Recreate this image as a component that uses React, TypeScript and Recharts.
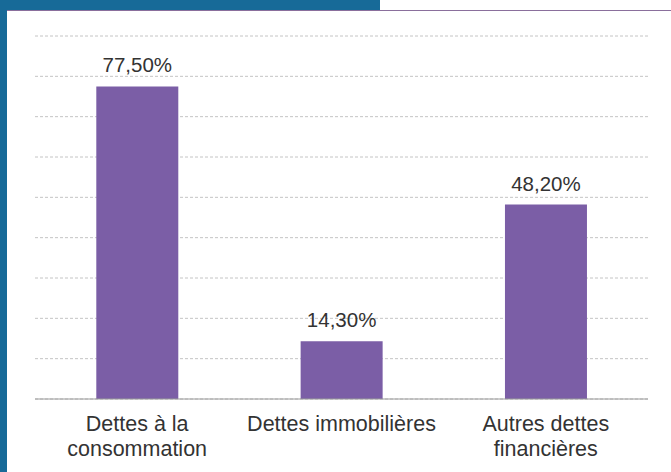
import { BarChart, Bar, XAxis, YAxis, CartesianGrid, LabelList } from 'recharts';

const CATEGORIES = ['Dettes à la\nconsommation', 'Dettes immobilières', 'Autres dettes\nfinancières'];
const VALUES = [77.5, 14.3, 48.2];
const Y_TICKS = [0, 10, 20, 30, 40, 50, 60, 70, 80, 90];

const BAR_COLOR = '#7b5ea6';
const TEXT_COLOR = '#333333';

const data = CATEGORIES.map((name, i) => ({ name, value: VALUES[i] }));

const formatPct = (v: number) => v.toFixed(2).replace('.', ',') + '%';

type TickProps = {
  x?: number;
  y?: number;
  payload?: { value: string };
};

function CategoryTick({ x = 0, y = 0, payload }: TickProps) {
  const lines = (payload?.value ?? '').split('\n');
  return (
    <text
      x={x}
      y={y}
      textAnchor="middle"
      fill={TEXT_COLOR}
      style={{ fontFamily: '"Liberation Sans", Arial, sans-serif', fontSize: '21.5px' }}
    >
      {lines.map((l, i) => (
        <tspan key={i} x={x} dy={i === 0 ? 24 : 25}>
          {l}
        </tspan>
      ))}
    </text>
  );
}

export default function App() {
  return (
    <div
      style={{
        position: 'fixed',
        left: 0,
        top: 0,
        width: '671px',
        height: '472px',
        background: '#176a98',
        overflow: 'hidden',
      }}
    >
      {/* white strip top right */}
      <div
        style={{
          position: 'absolute',
          left: '380px',
          top: 0,
          width: '291px',
          height: '10px',
          background: '#ffffff',
        }}
      />
      {/* chart panel */}
      <div
        style={{
          position: 'absolute',
          left: '7px',
          top: '10px',
          width: '664px',
          height: '462px',
          background: '#ffffff',
          borderTop: '1px solid #8a6f9c',
          boxSizing: 'border-box',
        }}
      >
        <BarChart
          width={664}
          height={461}
          data={data}
          margin={{ top: 25, right: 23, left: 28, bottom: 0 }}
          barCategoryGap="30%"
        >
          <CartesianGrid
            vertical={false}
            stroke="#c4c4c4"
            strokeDasharray="3 2"
          />
          <XAxis
            dataKey="name"
            height={73}
            axisLine={{ stroke: '#9a9a9a', strokeWidth: 1.2 }}
            tickLine={false}
            interval={0}
            tick={<CategoryTick />}
          />
          <YAxis hide domain={[0, 90]} ticks={Y_TICKS} />
          <Bar dataKey="value" fill={BAR_COLOR} isAnimationActive={false}>
            <LabelList
              dataKey="value"
              position="top"
              offset={14}
              formatter={(v: any) => formatPct(Number(v))}
              style={{
                fontFamily: '"Liberation Sans", Arial, sans-serif',
                fontSize: '20.5px',
                fill: TEXT_COLOR,
              }}
            />
          </Bar>
        </BarChart>
      </div>
    </div>
  );
}
